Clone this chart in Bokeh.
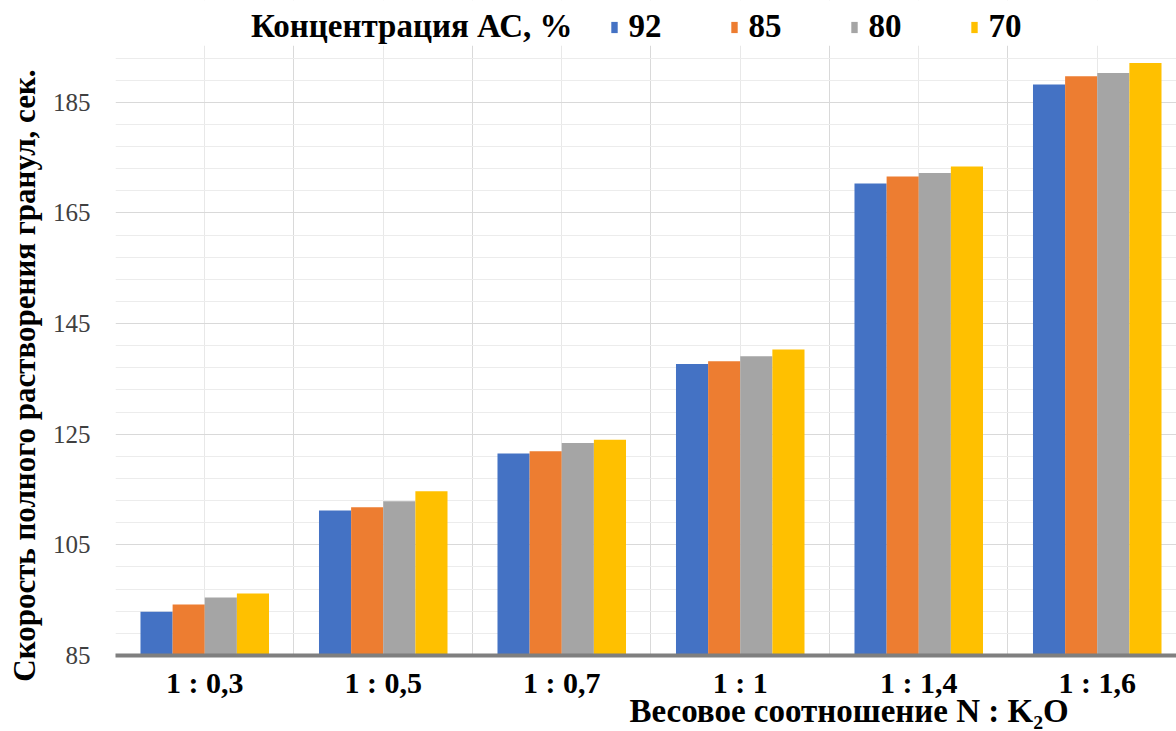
from bokeh.embed import file_html
from bokeh.models import (BoxAnnotation, ColumnDataSource, FixedTicker, Legend,
                          LegendItem, LinearAxis, Range1d)
from bokeh.plotting import figure
from bokeh.resources import INLINE
from bokeh.transform import dodge

# N : K2O weight ratios (categories on the x axis)
ratios = ["1 : 0,3", "1 : 0,5", "1 : 0,7", "1 : 1", "1 : 1,4", "1 : 1,6"]

# AS concentration, % (one series per concentration)
legend_heading = "Концентрация АС, %"
conc_labels = ["92", "85", "80", "70"]

# complete dissolution time of granules, s
time_92 = [92.9, 111.2, 121.5, 137.7, 170.3, 188.2]
time_85 = [94.2, 111.8, 121.9, 138.2, 171.6, 189.7]
time_80 = [95.5, 112.9, 123.4, 139.1, 172.2, 190.3]
time_70 = [96.2, 114.7, 124.0, 140.3, 173.4, 192.1]

y_ticks = [85, 105, 125, 145, 165, 185]
y_minor = [89, 93, 97, 101, 109, 113, 117, 121, 129, 133, 137, 141,
           149, 153, 157, 161, 169, 173, 177, 181, 189, 193]

x_title = "Весовое соотношение N : K₂O"
y_title = "Скорость полного растворения гранул, сек."

colors = ["#4472C4", "#ED7D31", "#A5A5A5", "#FFC000"]
offsets = [-0.27, -0.09, 0.09, 0.27]

SERIF = "Liberation Serif"
PLOT_TOP = 195.2        # upper edge of the gridded area
X_TITLE_AT = 3.61       # x position of the axis title centre
Y_TITLE_AT = 135.6      # y position of the axis title centre

source = ColumnDataSource(dict(
    x=list(range(len(ratios))),
    t92=time_92, t85=time_85, t80=time_80, t70=time_70,
))
cols = ["t92", "t85", "t80", "t70"]

p = figure(
    width=1176, height=731,
    x_range=Range1d(-0.5, 5.444), y_range=Range1d(85, 203.4),
    output_backend="svg", toolbar_location=None,
    min_border_left=115, min_border_right=0,
    min_border_top=0, min_border_bottom=76,
)
p.outline_line_color = None
p.background_fill_color = "white"
p.border_fill_color = "white"

renderers = []
for col, off, color in zip(cols, offsets, colors):
    r = p.vbar(x=dodge("x", off, range=p.x_range), top=col, bottom=85,
               width=0.18, source=source, fill_color=color, line_color=None)
    renderers.append(r)

# empty, transparent glyph so the heading sits in the legend row without a swatch
heading_glyph = p.vbar(x=[], top=[], width=0.18, fill_alpha=0, line_alpha=0)

# x axis: category labels under each group, thick grey baseline
xax = p.xaxis[0]
xax.ticker = FixedTicker(ticks=list(range(len(ratios))))
xax.major_label_overrides = {i: lab for i, lab in enumerate(ratios)}
xax.major_label_text_font = SERIF
xax.major_label_text_font_style = "bold"
xax.major_label_text_font_size = "30px"
xax.major_label_text_color = "black"
xax.major_label_standoff = 10
xax.axis_line_color = "#7f7f7f"
xax.axis_line_width = 4
xax.major_tick_line_color = None
xax.minor_tick_line_color = None
xax.major_tick_out = 0
xax.minor_tick_out = 0

# y axis: tick labels only
yax = p.yaxis[0]
yax.ticker = FixedTicker(ticks=y_ticks, minor_ticks=y_minor)
yax.major_label_text_font = SERIF
yax.major_label_text_font_size = "25px"
yax.major_label_text_color = "#404040"
yax.major_label_standoff = 25
yax.axis_line_color = None
yax.major_tick_line_color = None
yax.minor_tick_line_color = None
yax.major_tick_out = 0
yax.minor_tick_out = 0

# axis titles, each carried by an outer axis with a single labelled tick
x_title_axis = LinearAxis(
    ticker=FixedTicker(ticks=[X_TITLE_AT]),
    major_label_overrides={X_TITLE_AT: x_title},
    major_label_text_font=SERIF, major_label_text_font_style="bold",
    major_label_text_font_size="33px", major_label_text_color="black",
    major_label_standoff=-9,
    axis_line_color=None, major_tick_line_color=None,
    minor_tick_line_color=None, major_tick_out=0, minor_tick_out=0,
)
p.add_layout(x_title_axis, "below")

y_title_axis = LinearAxis(
    ticker=FixedTicker(ticks=[Y_TITLE_AT]),
    major_label_overrides={Y_TITLE_AT: y_title},
    major_label_orientation="parallel",
    major_label_text_font=SERIF, major_label_text_font_style="bold",
    major_label_text_font_size="31px", major_label_text_color="black",
    major_label_standoff=7,
    axis_line_color=None, major_tick_line_color=None,
    minor_tick_line_color=None, major_tick_out=0, minor_tick_out=0,
)
p.add_layout(y_title_axis, "left")

# grid: group boundaries and group centres, major and minor value lines
p.xgrid.ticker = FixedTicker(ticks=[-0.5, 0.5, 1.5, 2.5, 3.5, 4.5, 5.5],
                             minor_ticks=[0, 1, 2, 3, 4, 5])
p.xgrid.grid_line_color = "#d9d9d9"
p.xgrid.minor_grid_line_color = "#e8e8e8"
p.ygrid.grid_line_color = "#d9d9d9"
p.ygrid.minor_grid_line_color = "#ececec"

# blank band above the gridded area that holds the legend
p.add_layout(BoxAnnotation(bottom=PLOT_TOP, fill_color="white", fill_alpha=1,
                           line_color=None))

items = [LegendItem(label=legend_heading, renderers=[heading_glyph])]
items += [LegendItem(label=lab, renderers=[r])
          for lab, r in zip(conc_labels, renderers)]

legend = Legend(
    items=items,
    orientation="horizontal",
    label_text_font=SERIF,
    label_text_font_style="bold",
    label_text_font_size="33px",
    label_text_color="black",
    glyph_width=8, glyph_height=14,
    label_standoff=11, label_width=64, spacing=37,
    padding=0, margin=0,
    border_line_color=None, background_fill_alpha=0,
    location=(117, 610),
)
p.add_layout(legend, "center")

with open("out.html", "w") as f:
    f.write(file_html(p, INLINE))
